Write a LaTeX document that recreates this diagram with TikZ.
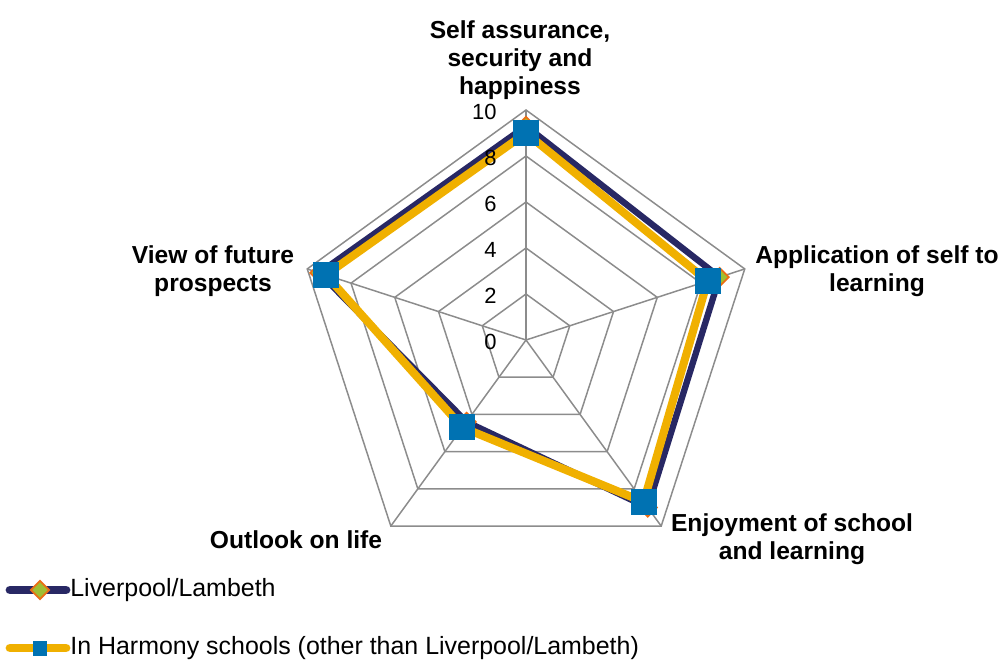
\documentclass[tikz,border=0pt]{standalone}
\usepackage{fontspec}
\setmainfont{Liberation Sans}
\usetikzlibrary{shapes.geometric}
\definecolor{navyline}{RGB}{40,40,100}
\definecolor{goldline}{RGB}{240,176,0}
\definecolor{markblue}{RGB}{0,114,178}
\definecolor{diamondfill}{RGB}{160,190,50}
\definecolor{diamondedge}{RGB}{235,110,20}
\definecolor{gridgray}{RGB}{140,140,140}
\begin{document}
\begin{tikzpicture}[x=0.02cm,y=0.02cm,
	gridline/.style={draw=gridgray,line width=0.85pt},
	axislabel/.style={font=\fontsize{14}{15.9}\selectfont\bfseries,align=center},
	ticklabel/.style={font=\fontsize{12.5}{15}\selectfont,anchor=east,inner sep=0pt},
	lvmark/.style={diamond,draw=diamondedge,fill=diamondfill,line width=1pt,minimum size=0.38cm,inner sep=0pt},
	hmmark/.style={rectangle,fill=markblue,minimum size=0.52cm,inner sep=0pt}]
	\useasboundingbox (0,0) rectangle (1006,660);
	\coordinate (c) at (526,320);
	% grid
	\foreach \r in {2,4,6,8,10}
		\draw [gridline] ([shift={(90:\r*23)}]c) -- ([shift={(18:\r*23)}]c) -- ([shift={(-54:\r*23)}]c)
			-- ([shift={(-126:\r*23)}]c) -- ([shift={(162:\r*23)}]c) -- cycle;
	\foreach \a in {90,18,-54,-126,162}
		\draw [gridline] (c) -- ([shift={(\a:230)}]c);
	% categories
	\node [axislabel] (self) at (520,600) {Self assurance,\\security and\\happiness};
	\node [axislabel] (appl) at (877,389) {Application of self to\\learning};
	\node [axislabel] (enjoy) at (792,121) {Enjoyment of school\\and learning};
	\node [axislabel] (outlook) at (296,120) {Outlook on life};
	\node [axislabel] (view) at (213,389) {View of future\\prospects};
	% data
	\coordinate (lv1) at ([shift={(90:9.3*23)}]c);
	\coordinate (lv2) at ([shift={(18:8.85*23)}]c);
	\coordinate (lv3) at ([shift={(-54:9.0*23)}]c);
	\coordinate (lv4) at ([shift={(-126:4.4*23)}]c);
	\coordinate (lv5) at ([shift={(162:9.45*23)}]c);
	\coordinate (hm1) at ([shift={(90:9.0*23)}]c);
	\coordinate (hm2) at ([shift={(18:8.3*23)}]c);
	\coordinate (hm3) at ([shift={(-54:8.7*23)}]c);
	\coordinate (hm4) at ([shift={(-126:4.7*23)}]c);
	\coordinate (hm5) at ([shift={(162:9.15*23)}]c);
	\draw [navyline,line width=3.6pt,line join=round] (lv1) -- (lv2) -- (lv3) -- (lv4) -- (lv5) -- cycle;
	\draw [goldline,line width=4.6pt,line join=round] (hm1) -- (hm2) -- (hm3) -- (hm4) -- (hm5) -- cycle;
	\foreach \p in {lv1,lv2,lv3,lv4,lv5}
		\node [lvmark] at (\p) {};
	\foreach \p in {hm1,hm2,hm3,hm4,hm5}
		\node [hmmark] at (\p) {};
	\foreach \v in {0,2,4,6,8,10}
		\node [ticklabel] (t\v) at (497,318+\v*23) {\v};
	% legend
	\coordinate (k1a) at (10,70);
	\coordinate (k1b) at (66,70);
	\coordinate (k2a) at (10,12);
	\coordinate (k2b) at (66,12);
	\draw [navyline,line width=5pt,line cap=round] (k1a) -- (k1b);
	\draw [goldline,line width=5pt,line cap=round] (k2a) -- (k2b);
	\node [lvmark] (k1) at (40,70) {};
	\node [hmmark,minimum size=0.3cm] (k2) at (40,12) {};
	\node [anchor=west,inner sep=0pt,font=\fontsize{14.2}{16}\selectfont] (lvtext) at (70,70) {Liverpool/Lambeth};
	\node [anchor=west,inner sep=0pt,font=\fontsize{14.2}{16}\selectfont] (hmtext) at (70,12) {In Harmony schools (other than Liverpool/Lambeth)};
\end{tikzpicture}
\end{document}
